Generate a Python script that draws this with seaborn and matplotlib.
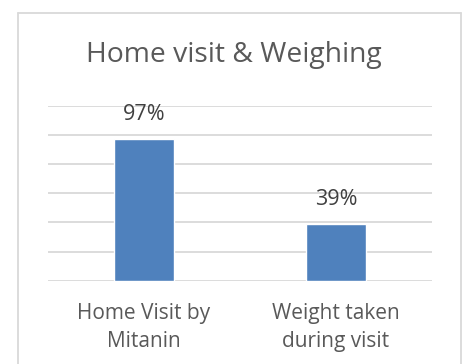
import matplotlib
matplotlib.use("Agg")
import matplotlib.pyplot as plt
from matplotlib.lines import Line2D
import seaborn as sns
import pandas as pd

categories = ["Home Visit by\nMitanin", "Weight taken\nduring visit"]
values = [97, 39]
title = "Home visit & Weighing"

sns.set_theme(style="white")
plt.rcParams["font.family"] = ["Open Sans", "DejaVu Sans"]

W, H = 467, 364
fig = plt.figure(figsize=(W / 100, H / 100), dpi=100)
ax = fig.add_axes([47.7 / W, 1 - 280.7 / H, (432 - 47.7) / W, (280.7 - 105.5) / H])

df = pd.DataFrame({"category": categories, "value": values})
sns.barplot(data=df, x="category", y="value", color="#4F81BD", width=0.31,
            saturation=1, ax=ax, zorder=3)

ax.set_ylim(0, 120)
ax.set_yticks(range(0, 121, 20))
ax.yaxis.grid(True, color="#D9D9D9", linewidth=1.3, zorder=0)
ax.set_axisbelow(True)
for s in ["left", "right", "top", "bottom"]:
    ax.spines[s].set_visible(False)
ax.tick_params(axis="y", left=False, labelleft=False)
ax.tick_params(axis="x", bottom=False, labelsize=15, labelcolor="#595959", pad=10)
ax.set_xlabel("")
ax.set_ylabel("")

for lbl in ax.get_xticklabels():
    lbl.set_linespacing(1.45)

for cont in ax.containers:
    ax.bar_label(cont, labels=[f"{v}%" for v in values], padding=10,
                 fontsize=15.5, color="#404040")

fig.text(0.5, 1 - 55 / H, title, ha="center", va="center", fontsize=20.3, color="#595959")

# chart frame
lx, rx, ty = 17.5 / W, 461 / W, 1 - 13 / H
for xs, ys in [([lx, lx], [-0.05, ty]), ([rx, rx], [-0.05, ty]), ([lx, rx], [ty, ty])]:
    fig.add_artist(Line2D(xs, ys, color="#D9D9D9", linewidth=1.3, transform=fig.transFigure))

fig.savefig("out.png", dpi=100, facecolor="white")
